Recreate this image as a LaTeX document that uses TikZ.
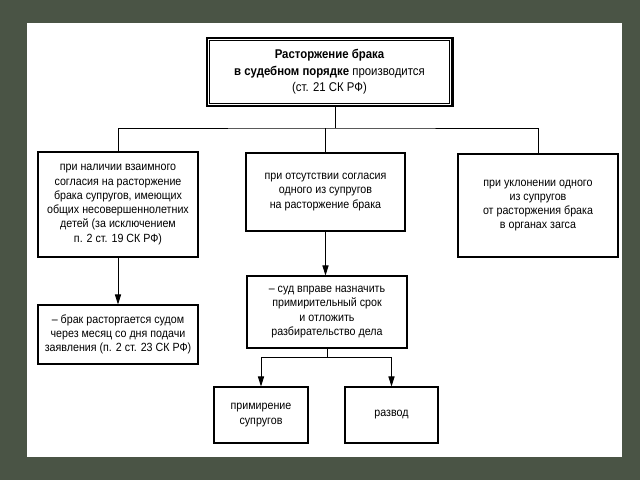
\documentclass[tikz,border=0pt]{standalone}
\usepackage{fontspec}
\setmainfont{Liberation Sans}[FakeStretch=0.9]
\usepackage{tikz}
\usetikzlibrary{arrows.meta}

\tikzset{
  box/.style={draw, line width=0.8pt, align=center, inner sep=2pt,
    font=\fontsize{8.9}{10.7}\selectfont},
  link/.style={line width=0.7pt},
  arr/.style={link, -{Triangle[length=7.5pt,width=4.6pt]}}
}

\begin{document}
\begin{tikzpicture}[x=0.75pt,y=-0.75pt]

\definecolor{c1}{rgb}{0.29, 0.33, 0.27}
\definecolor{c2}{rgb}{1.0, 1.0, 1.0}

\useasboundingbox (0,0) rectangle (640,480);
\fill[c1] (0,0) rectangle (640,480);
\fill[c2] (27,23) rectangle (622,457);

\node[box, line width=2pt, minimum width=184pt, minimum height=51pt,
  font=\fontsize{9.5}{12.3}\selectfont] (court) at (329.5,72)
  {\textbf{Расторжение брака}\\\textbf{в судебном порядке} производится\\(ст. 21 СК РФ)};
\draw[line width=0.8pt] ([shift={(4,4)}]court.north west) rectangle ([shift={(-4,-4)}]court.south east);

\node[box, minimum width=120pt, minimum height=78.75pt] (mutual) at (118,204.5)
  {при наличии взаимного\\согласия на расторжение\\брака супругов, имеющих\\общих несовершеннолетних\\детей (за исключением\\п. 2 ст. 19 СК РФ)};
\node[box, minimum width=119.25pt, minimum height=58.5pt] (nocons) at (325.5,192)
  {при отсутствии согласия\\одного из супругов\\на расторжение брака};
\node[box, minimum width=120pt, minimum height=77.25pt] (evade) at (538,205.5)
  {при уклонении одного\\из супругов\\от расторжения брака\\в органах загса};

\node[box, minimum width=120pt, minimum height=44.25pt] (month) at (118,334.5)
  {-- брак расторгается судом\\через месяц со дня подачи\\заявления (п. 2 ст. 23 СК РФ)};
\node[box, minimum width=120pt, minimum height=54pt] (delay) at (327,312)
  {-- суд вправе назначить\\примирительный срок\\и отложить\\разбирательство дела};

\node[box, minimum width=70.5pt, minimum height=42pt] (recon) at (261,415)
  {примирение\\супругов};
\node[box, minimum width=69.75pt, minimum height=42pt] (divorce) at (391.5,415)
  {развод};

\coordinate (fork) at (335,128);
\coordinate (split) at (327,357);

\draw[link] (court.south -| fork) -- (fork);
\draw[link] (mutual.north) |- (fork) -| (evade.north);
\draw[link] (nocons.north) -- (nocons.north |- fork);

\draw[arr] (mutual.south) -- (month.north);
\draw[arr] (nocons.south) -- (nocons.south |- delay.north);
\draw[link] (delay.south) -- (split);
\draw[arr] (split) -| (recon.north);
\draw[arr] (split) -| (divorce.north);

\end{tikzpicture}
\end{document}
